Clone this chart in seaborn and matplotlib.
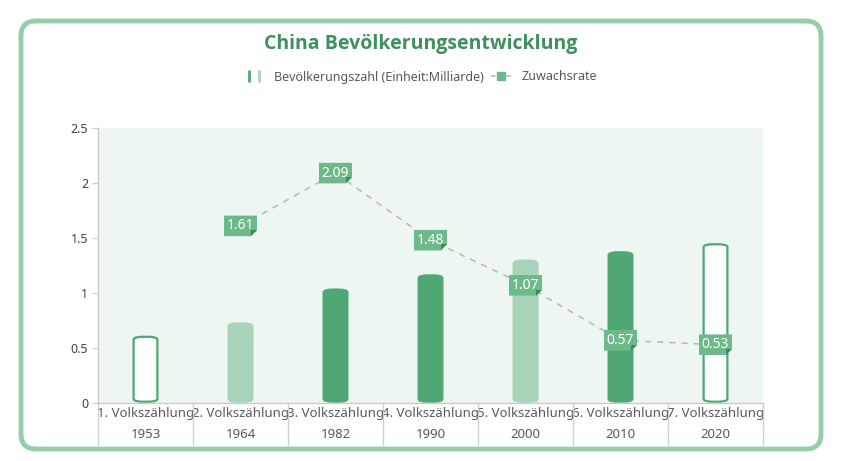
import matplotlib
matplotlib.use("Agg")
import matplotlib.pyplot as plt
import seaborn as sns
import pandas as pd
from matplotlib.patches import FancyBboxPatch, Polygon
from matplotlib.lines import Line2D
from matplotlib.legend_handler import HandlerTuple
import matplotlib.transforms as mtransforms

# ---- data ----
census = ["1. Volkszählung", "2. Volkszählung", "3. Volkszählung", "4. Volkszählung",
          "5. Volkszählung", "6. Volkszählung", "7. Volkszählung"]
years = ["1953", "1964", "1982", "1990", "2000", "2010", "2020"]
population = [0.602, 0.723, 1.031, 1.160, 1.295, 1.370, 1.443]
rate_years = ["1964", "1982", "1990", "2000", "2010", "2020"]
growth_rate = [1.61, 2.09, 1.48, 1.07, 0.57, 0.53]
y_ticks = [0, 0.5, 1, 1.5, 2, 2.5]

DARK = "#4fa874"
LIGHT = "#a8d5b9"
WHITE = "#ffffff"
fills = [WHITE, LIGHT, DARK, DARK, LIGHT, DARK, WHITE]
LABEL_BG = "#6cb98a"
FOLD = "#3f8a5d"
TXT = "#595959"

sns.set_style("white")
plt.rcParams["font.family"] = ["Noto Sans", "DejaVu Sans"]

fig = plt.figure(figsize=(8.41, 4.61), dpi=100)
ax = fig.add_axes([98/841, 1-403/461, (763-98)/841, (403-128)/461])
ax.set_facecolor("#edf6f0")

# rounded outer frame
frame = FancyBboxPatch((21/841, 1-449/461), (821-21)/841, (449-21)/461,
                       boxstyle="round,pad=0,rounding_size=0.018",
                       transform=fig.transFigure, fc="none", ec="#95cfa8", lw=3.5,
                       mutation_aspect=841/461, zorder=0)
fig.patches.append(frame)

df = pd.DataFrame({"cat": [f"{c}\n{y}" for c, y in zip(census, years)], "pop": population})
sns.barplot(data=df, x="cat", y="pop", ax=ax, width=0.25, color=DARK, saturation=1, zorder=2)

# replace with rounded (capsule-like) bars
for p, fc in zip(list(ax.patches), fills):
    x, w, h = p.get_x(), p.get_width(), p.get_height()
    p.set_visible(False)
    rb = FancyBboxPatch((x, 0.012), w, h - 0.012, boxstyle="round,pad=0,rounding_size=0.1",
                        mutation_aspect=0.25,
                        fc=fc, ec=DARK if fc == WHITE else fc, lw=1.6, zorder=2)
    ax.add_patch(rb)

# growth rate line
xi = [years.index(y) for y in rate_years]
sns.lineplot(x=xi, y=growth_rate, ax=ax, color="#b3b6c4", lw=1.1, linestyle=(0, (4, 4)),
             zorder=3)
texts = []
for xv, v in zip(xi, growth_rate):
    t = ax.text(xv, v, f"{v:.2f}", ha="center", va="center", color="white", fontsize=10,
                zorder=6, bbox=dict(boxstyle="square,pad=0.2", fc="none", ec="none"))
    texts.append(t)

ax.set_xlim(-0.5, 6.5)
ax.set_ylim(0, 2.5)
ax.set_yticks(y_ticks)
ax.set_yticklabels([f"{t:g}" for t in y_ticks], color="#444444", fontsize=9)
ax.tick_params(axis="y", length=4, color="#cccccc", pad=3, left=True)
ax.tick_params(axis="x", length=0, pad=3, labelsize=9.5, labelcolor=TXT)
for lab in ax.get_xticklabels():
    lab.set_linespacing(1.8)
ax.set_xlabel("")
ax.set_ylabel("")
for s in ["top", "right"]:
    ax.spines[s].set_visible(False)
for s in ["left", "bottom"]:
    ax.spines[s].set_color("#cccccc")
    ax.spines[s].set_linewidth(1)

# category cell separators
trans = mtransforms.blended_transform_factory(ax.transData, ax.transAxes)
for b in [x - 0.5 for x in range(8)]:
    ax.plot([b, b], [0, -42/275], transform=trans, color="#d0d0d0", lw=1, clip_on=False)

# title and legend
fig.text(0.5, 1-44/461, "China Bevölkerungsentwicklung", ha="center", va="center",
         fontsize=14, fontweight="bold", color="#3f8f5f",
         family=["Open Sans", "DejaVu Sans"])
bar_handle = (Line2D([], [], marker="|", linestyle="none", color=DARK, markersize=8, mew=2),
              Line2D([], [], marker="|", linestyle="none", color=LIGHT, markersize=8, mew=2))
line_handle = Line2D([], [], color="#b3b6c4", lw=1.1, linestyle=(0, (3, 2)), marker="s",
                     markersize=6, markerfacecolor=LABEL_BG, markeredgecolor=LABEL_BG)
fig.legend([bar_handle, line_handle], ["Bevölkerungszahl (Einheit:Milliarde)", "Zuwachsrate"],
           handler_map={tuple: HandlerTuple(ndivide=2, pad=0.0)},
           loc="center", bbox_to_anchor=(0.5, 1-77/461), ncol=2, frameon=False,
           fontsize=9, labelcolor=TXT, handlelength=1.6, handleheight=0.9,
           columnspacing=0.6, handletextpad=0.8)

# label boxes with folded corner
fig.canvas.draw()
r = fig.canvas.get_renderer()
inv = ax.transData.inverted()
for t in texts:
    bb = t.get_bbox_patch().get_window_extent(r)
    s = 6
    box = [(bb.x0, bb.y0), (bb.x1 - s, bb.y0), (bb.x1, bb.y0 + s), (bb.x1, bb.y1), (bb.x0, bb.y1)]
    ax.add_patch(Polygon([inv.transform(p) for p in box], closed=True,
                         fc=LABEL_BG, ec="none", zorder=4))
    fold = [(bb.x1 - s, bb.y0), (bb.x1 - s, bb.y0 + s), (bb.x1, bb.y0 + s)]
    ax.add_patch(Polygon([inv.transform(p) for p in fold], closed=True,
                         fc=FOLD, ec="none", zorder=5))

fig.savefig("out.png", dpi=100)
